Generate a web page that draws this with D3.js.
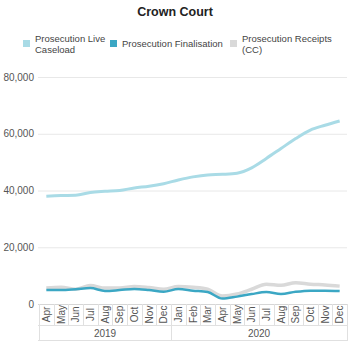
<!DOCTYPE html>
<html><head><meta charset="utf-8">
<script src="https://cdn.jsdelivr.net/npm/d3@7"></script>
<style>body{margin:0;background:#fff;} svg{display:block;font-family:"Liberation Sans",Arial,sans-serif;}</style>
</head><body><svg id="c" width="350" height="344"></svg>
<script>
const months = ["Apr","May","Jun","Jul","Aug","Sep","Oct","Nov","Dec","Jan","Feb","Mar","Apr","May","Jun","Jul","Aug","Sep","Oct","Nov","Dec"];
const years = [{label:"2019", n:9},{label:"2020", n:12}];
const liveCaseload = [38000,38200,38300,39300,39700,40000,40900,41500,42400,43700,44800,45500,45700,46100,48000,51300,54800,58300,61300,63000,64500];
const finalisation = [4900,4900,5200,5600,4600,4900,5300,4900,4300,5300,4700,4200,1900,2600,3500,4200,3500,4300,4700,4700,4600];
const receipts = [5600,5900,5200,6500,5600,5600,6200,5800,5200,6200,5900,5200,2800,3500,5200,7000,6600,7500,7000,6700,6300];
const yTicks = [0,20000,40000,60000,80000];
const seriesNames = ["Prosecution Live Caseload","Prosecution Finalisation","Prosecution Receipts (CC)"];

const svg = d3.select("#c");
const L=39, R=347, T=77, B=304;
const idx = months.map((m,i)=>i);
const x = d3.scaleBand().domain(idx).range([L,R]);
const y = d3.scaleLinear().domain([0,80000]).range([B,T]);

svg.append("text").attr("x",175).attr("y",16).attr("text-anchor","middle")
  .attr("font-size",12.5).attr("font-weight","bold").attr("fill","#222").text("Crown Court");

// legend
const colors = ["#a9dbe6","#3ba7c4","#d9d9d9"];
const leg = [
  {sx:23, tx:35, lines:["Prosecution Live","Caseload"]},
  {sx:110, tx:122, lines:["Prosecution Finalisation"]},
  {sx:230, tx:242, lines:["Prosecution Receipts","(CC)"]}
];
leg.forEach((d,i)=>{
  svg.append("rect").attr("x",d.sx).attr("y",40).attr("width",7).attr("height",7).attr("fill",colors[i]);
  const t = svg.append("text").attr("font-size",9.5).attr("fill","#444");
  if(d.lines.length===1){ t.append("tspan").attr("x",d.tx).attr("y",47).text(d.lines[0]); }
  else { t.append("tspan").attr("x",d.tx).attr("y",41.5).text(d.lines[0]);
         t.append("tspan").attr("x",d.tx).attr("y",52.5).text(d.lines[1]); }
});

// gridlines
svg.append("g").selectAll("line").data(yTicks).join("line")
  .attr("x1",L-1).attr("x2",R).attr("y1",d=>y(d)+0.5).attr("y2",d=>y(d)+0.5)
  .attr("stroke",d=>d===0?"#d6d6d6":"#e8e8e8").attr("stroke-width",1);
svg.append("g").selectAll("text").data(yTicks).join("text")
  .attr("x",34).attr("y",d=>y(d)+3.5).attr("text-anchor","end")
  .attr("font-size",10).attr("fill","#555").text(d=>d3.format(",")(d));

// month axis boxes
const axG = svg.append("g");
const edges = idx.map(i=>x(i)).concat([R]);
axG.selectAll("line.m").data(edges).join("line").attr("class","m")
  .attr("x1",d=>Math.round(d)+0.5).attr("x2",d=>Math.round(d)+0.5).attr("y1",B).attr("y2",325)
  .attr("stroke","#e0e0e0");
axG.selectAll("text.m").data(idx).join("text").attr("class","m")
  .attr("transform",i=>`translate(${x(i)+x.bandwidth()/2+3.5},314.5) rotate(-90)`)
  .attr("text-anchor","middle").attr("font-size",10).attr("fill","#555").text(i=>months[i]);
// year row
axG.append("line").attr("x1",L-1).attr("x2",R).attr("y1",325.5).attr("y2",325.5).attr("stroke","#e0e0e0");
axG.append("line").attr("x1",L-1).attr("x2",R).attr("y1",340.5).attr("y2",340.5).attr("stroke","#e0e0e0");
let start=0;
const yb=[];
years.forEach(yr=>{ yb.push({s:start,e:start+yr.n,label:yr.label}); start+=yr.n; });
axG.selectAll("line.y").data([x(0)].concat(yb.map(d=>d.e<months.length?x(d.e):R))).join("line").attr("class","y")
  .attr("x1",d=>Math.round(d)+0.5).attr("x2",d=>Math.round(d)+0.5).attr("y1",325).attr("y2",341).attr("stroke","#e0e0e0");
axG.selectAll("text.y").data(yb).join("text").attr("class","y")
  .attr("x",d=>(x(d.s)+(d.e<months.length?x(d.e):R))/2).attr("y",336.5)
  .attr("text-anchor","middle").attr("font-size",10).attr("fill","#555").text(d=>d.label);

const line = d3.line().x((d,i)=>x(i)+x.bandwidth()/2).y(d=>y(d)).curve(d3.curveMonotoneX);
svg.append("path").datum(receipts).attr("d",line).attr("fill","none").attr("stroke",colors[2]).attr("stroke-width",3.5).attr("stroke-linejoin","round");
svg.append("path").datum(finalisation).attr("d",line).attr("fill","none").attr("stroke",colors[1]).attr("stroke-width",2.5).attr("stroke-linejoin","round");
svg.append("path").datum(liveCaseload).attr("d",line).attr("fill","none").attr("stroke",colors[0]).attr("stroke-width",3).attr("stroke-linejoin","round");
</script></body></html>
